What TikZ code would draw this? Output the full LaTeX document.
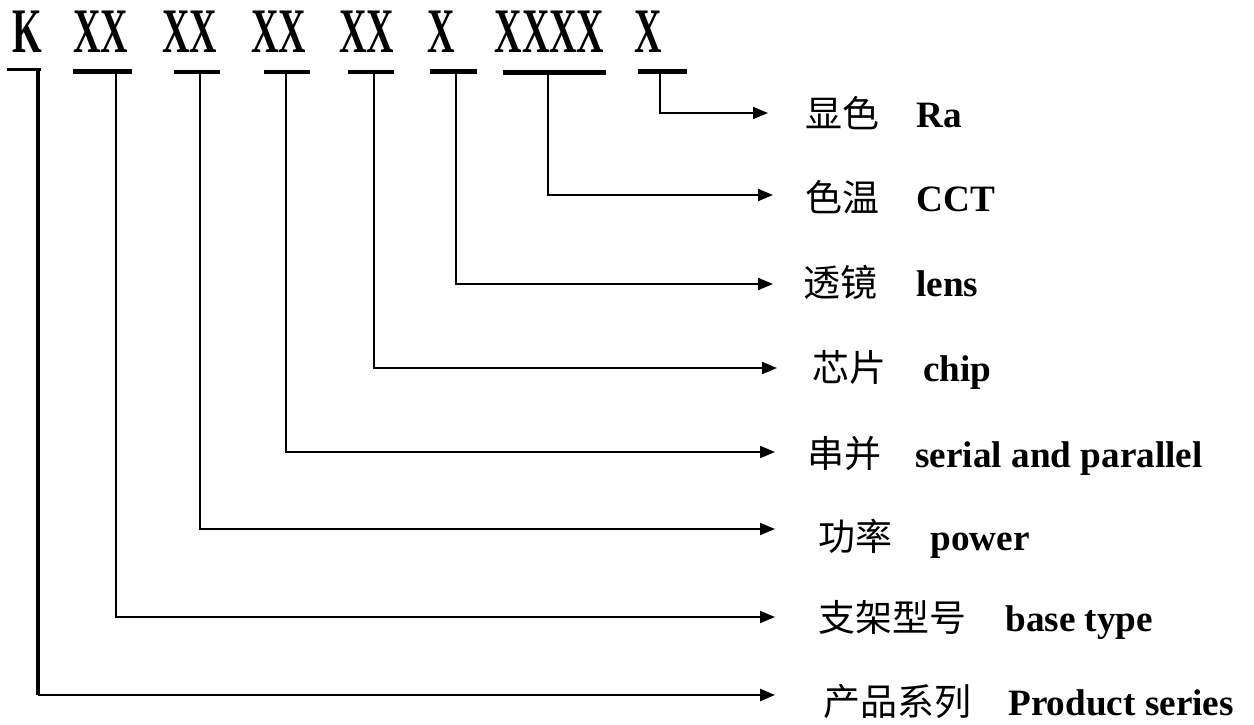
\documentclass[tikz,border=0pt]{standalone}
\usepackage{fontspec}
\setmainfont{Liberation Serif}
\newfontfamily\cjk{Noto Sans CJK SC}
\newfontfamily\codefont[FakeStretch=0.6]{Liberation Serif}
\usetikzlibrary{arrows.meta}
\tikzset{
  code/.style={anchor=base, inner sep=0pt, font=\codefont\bfseries\fontsize{31.7pt}{36pt}\selectfont},
  cn/.style={anchor=base west, inner sep=0pt, font=\cjk\fontsize{18.5pt}{22pt}\selectfont},
  en/.style={anchor=base west, inner sep=0pt, font=\bfseries\fontsize{18.6pt}{22pt}\selectfont},
  conn/.style={line width=1pt, -{Triangle[length=7.5pt,width=6pt]}},
}
\begin{document}
\begin{tikzpicture}[x=0.5pt,y=-0.5pt]
\useasboundingbox (0,0) rectangle (1254,724);
% code letters
\node[code] (cK)  at (27.5,52) {K};
\node[code] (c1)  at (101,52) {XX};
\node[code] (c2)  at (190,52) {XX};
\node[code] (c3)  at (278.5,52) {XX};
\node[code] (c4)  at (366.5,52) {XX};
\node[code] (c5)  at (441,52) {X};
\node[code] (c6)  at (549.5,52) {XXXX};
\node[code] (c7)  at (648.5,52) {X};
% bars
\draw[line width=1.75pt] (7,69.5) -- (41,69.5);
\draw[line width=2.5pt] (73,71.5) -- (132,71.5);
\draw[line width=2pt] (174,72) -- (220,72);
\draw[line width=2pt] (264,72) -- (310,72);
\draw[line width=2pt] (348,72) -- (394,72);
\draw[line width=2.5pt] (430,71) -- (477,71);
\draw[line width=2.5pt] (503,72) -- (606,72);
\draw[line width=2.5pt] (638,71.5) -- (687,71.5);
% start points under bars
\coordinate (sK) at (38,70);
\coordinate (s1) at (116,72);
\coordinate (s2) at (200,72);
\coordinate (s3) at (286,72);
\coordinate (s4) at (374,72);
\coordinate (s5) at (456,72);
\coordinate (s6) at (548,72);
\coordinate (s7) at (660,72);
% arrow tips
\coordinate (t7) at (768,113);
\coordinate (t6) at (773,195);
\coordinate (t5) at (773,284);
\coordinate (t4) at (777,368);
\coordinate (t3) at (775,452);
\coordinate (t2) at (775,529);
\coordinate (t1) at (775,617);
\coordinate (tK) at (775,695);
% connectors
\draw[conn] (s7) |- (t7);
\draw[conn] (s6) |- (t6);
\draw[conn] (s5) |- (t5);
\draw[conn] (s4) |- (t4);
\draw[conn] (s3) |- (t3);
\draw[conn] (s2) |- (t2);
\draw[conn] (s1) |- (t1);
\draw[line width=1.9pt] (sK) -- (sK |- tK);
\draw[conn, line width=1.3pt] (sK |- tK) -- (tK);
% labels
\node[cn] (l7) at (805,127) {显色};  \node[en] (e7) at (916,127) {Ra};
\node[cn] (l6) at (805,211) {色温};  \node[en] (e6) at (916,211) {CCT};
\node[cn] (l5) at (803,296) {透镜};  \node[en] (e5) at (916,296) {lens};
\node[cn] (l4) at (812,381) {芯片};  \node[en] (e4) at (923,381) {chip};
\node[cn] (l3) at (807,467) {串并};  \node[en] (e3) at (915,467) {serial and parallel};
\node[cn] (l2) at (818,550) {功率};  \node[en] (e2) at (930,550) {power};
\node[cn] (l1) at (818,631) {支架型号};  \node[en] (e1) at (1005,631) {base type};
\node[cn] (lK) at (823,715) {产品系列};  \node[en] (eK) at (1008,715) {Product series};
\end{tikzpicture}
\end{document}
